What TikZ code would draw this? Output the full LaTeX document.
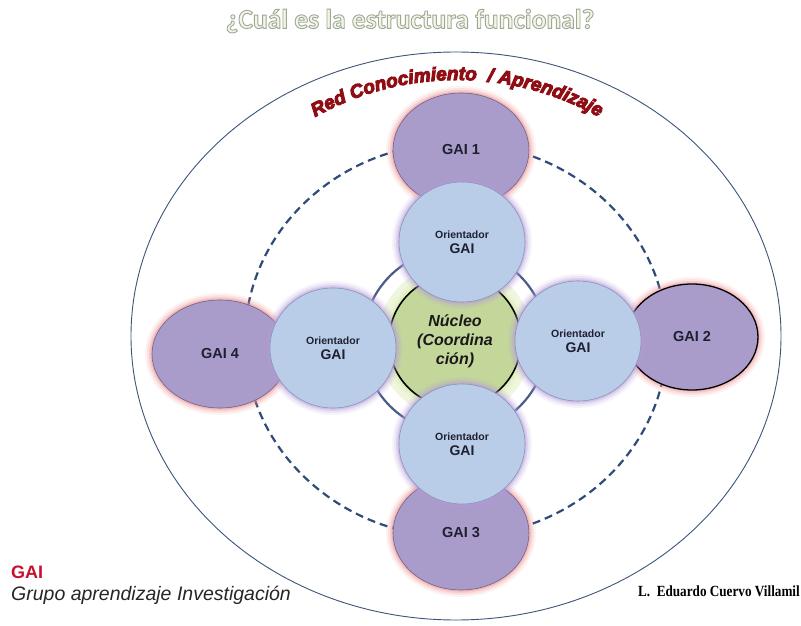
\documentclass[tikz,border=0pt]{standalone}
\usepackage{fontspec}
\setmainfont{Liberation Sans}
\newfontfamily\titlefont{Carlito}
\newfontfamily\sigfont{Liberation Serif}[FakeStretch=0.85]
\usetikzlibrary{shapes.geometric,decorations.text}

\definecolor{gaifill}{HTML}{A99CCA}
\definecolor{gaiborder}{HTML}{6E6288}
\definecolor{orifill}{HTML}{B9CDE9}
\definecolor{oriborder}{HTML}{8C93B2}
\definecolor{nucfill}{HTML}{C4D79B}
\definecolor{ringcol}{HTML}{4B5C88}
\definecolor{outercol}{HTML}{3D5678}
\definecolor{dashcol}{HTML}{2F4B78}
\definecolor{redtxt}{HTML}{8E0E14}
\definecolor{halored}{HTML}{EE8E8E}
\definecolor{halopurple}{HTML}{B49BDC}
\definecolor{halogreen}{HTML}{D4E8A0}
\definecolor{titlefill}{HTML}{F1F6E6}
\definecolor{txtdark}{HTML}{1E2030}
\definecolor{legred}{HTML}{C8102E}

\newcommand\halo[5]{%
  \foreach \w/\o in {14/0.10,10/0.16,6/0.25,3/0.35}{%
    \draw[line width=\w pt, draw=#5, opacity=\o] (#1,#2) ellipse [x radius=#3, y radius=#4];}}
\newcommand\oritext{{\fontsize{10.5}{12}\selectfont Orientador}\\[3pt]{\fontsize{14}{16}\selectfont GAI}}
\newcommand\heavyred{\special{pdf:literal direct 2 Tr 1.0 w 0.557 0.055 0.078 RG}}

\begin{document}
\begin{tikzpicture}[x=1pt,y=1pt,
  gai/.style={ellipse, draw=gaiborder, line width=0.6pt, fill=gaifill, inner sep=0pt,
    minimum width=136pt, minimum height=114pt, text=txtdark,
    font=\bfseries\fontsize{14.5}{17}\selectfont},
  ori/.style={ellipse, draw=oriborder, line width=0.6pt, fill=orifill, inner sep=0pt,
    minimum width=126pt, minimum height=120pt, text=txtdark, align=center,
    font=\bfseries\fontsize{10.5}{12}\selectfont},
  titlestyle/.style={font=\titlefont\bfseries\fontsize{27.5}{27.5}\selectfont, inner sep=0pt},
  redpath/.style={decorate, decoration={text along path, text align=center,
    text={|\bfseries\itshape\fontsize{19}{19}\selectfont\color{#1}\heavyred|Red Conocimiento {} / Aprendizaje}}}
]
\useasboundingbox (0,0) rectangle (801,625);
\fill[white] (0,0) rectangle (801,625);

% title (pale fill, grey outline)
\node[titlestyle, text=titlefill] (title) at (410,604)
  {\special{pdf:literal direct q 2 Tr 0.9 w 0.62 0.66 0.58 RG}¿Cuál es la estructura funcional?\special{pdf:literal direct Q}};

% outer ellipse and dashed ring
\draw[outercol, line width=0.9pt] (456,289) ellipse [x radius=325, y radius=284];
\draw[dashcol, line width=2.2pt, dash pattern=on 8pt off 5pt] (456,285) ellipse [x radius=211, y radius=197];

% GAI halos
\halo{461}{475}{68}{57}{halored}
\halo{692}{288}{66}{53}{halored}
\halo{461}{92}{68}{57}{halored}
\halo{220}{271}{68}{54}{halored}

% GAI ellipses
\node[gai] (g1) at (461,475) {GAI 1};
\node[gai, draw=black, line width=1.3pt, minimum width=132pt, minimum height=106pt] (g2) at (692,288) {GAI 2};
\node[gai] (g3) at (461,92) {GAI 3};
\node[gai, minimum height=108pt] (g4) at (220,271) {GAI 4};

% ring around nucleus
\node[circle, draw=ringcol, line width=2.2pt, fill=white, minimum size=184pt, inner sep=0pt] (ring) at (455,284) {};
\halo{455}{284}{66}{66}{halogreen}
\fill[halogreen, opacity=0.35] (455,284) circle [radius=78];

% nucleus
\node[circle, draw=black, line width=1.6pt, fill=nucfill, minimum size=132pt, inner sep=0pt,
  align=center, text=black!90, font=\bfseries\itshape\fontsize{16}{19}\selectfont] (nuc) at (455,284)
  {Núcleo\\(Coordina\\ción)};

% orientador halos
\halo{462}{383}{63}{60}{halopurple}
\halo{333}{277}{63}{60}{halopurple}
\halo{578}{284}{63}{60}{halopurple}
\halo{462}{181}{63}{60}{halopurple}

% orientadores
\node[ori] (o1) at (462,383) {\oritext};
\node[ori] (o4) at (333,277) {\oritext};
\node[ori] (o2) at (578,284) {\oritext};
\node[ori] (o3) at (462,181) {\oritext};

% legend
\node[anchor=base west, inner sep=0pt, text=legred, font=\bfseries\fontsize{18}{18}\selectfont] (leg1) at (11,47) {GAI};
\node[anchor=base west, inner sep=0pt, text=black!85, font=\itshape\fontsize{19.5}{19.5}\selectfont] (leg2) at (11,25) {Grupo aprendizaje Investigación};
\node[anchor=base east, inner sep=0pt, font=\sigfont\bfseries\fontsize{15.5}{15.5}\selectfont] (sig) at (800,29) {L.\ \ Eduardo Cuervo Villamil};

% curved red title (drawn last: its stroked text mode is left in force)
\path[redpath=redtxt] (457,255) ++(121:290) arc[start angle=121, end angle=59, radius=290];
\end{tikzpicture}
\end{document}
